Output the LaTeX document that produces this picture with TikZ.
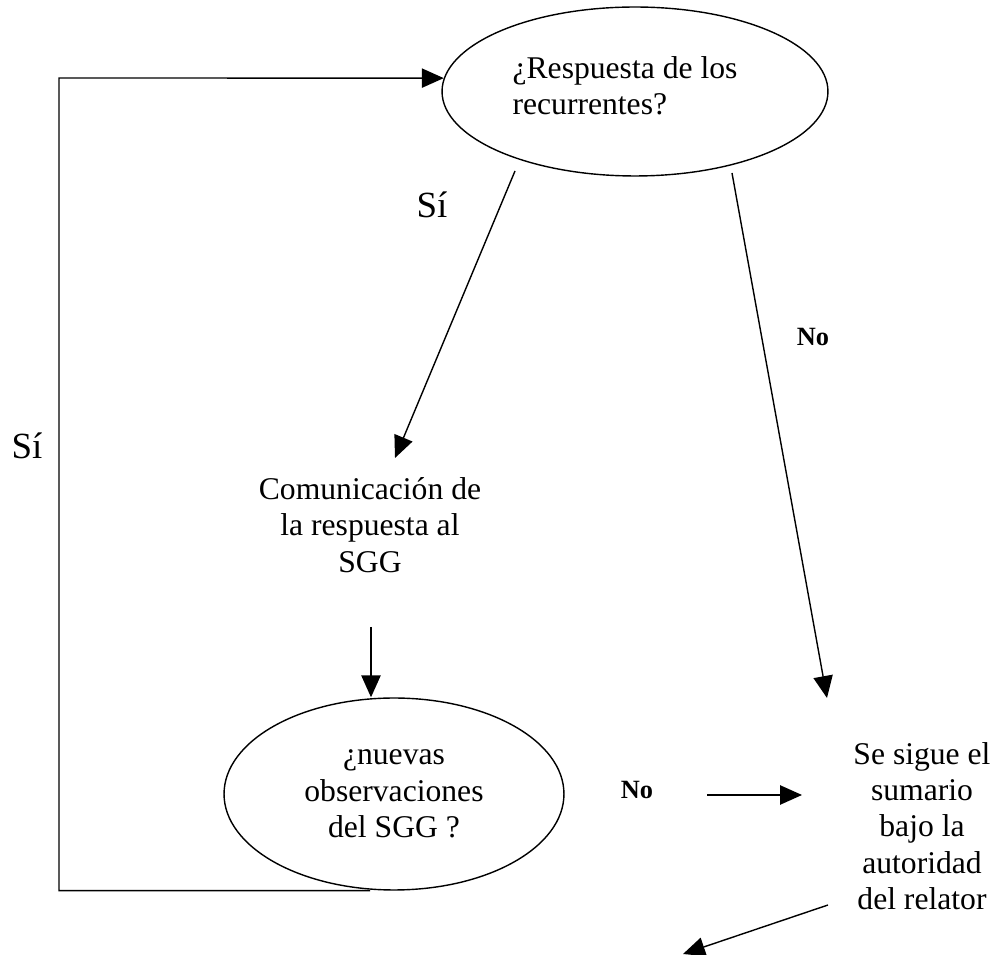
\documentclass[tikz,border=0pt]{standalone}
\usepackage{fontspec}
\setmainfont{Liberation Serif}
\usetikzlibrary{positioning,arrows.meta,shapes.geometric}

\begin{document}
\begin{tikzpicture}[x=0.02cm, y=-0.02cm,
    flecha/.style={line width=0.8pt, -{Triangle[length=12.5pt,width=11pt]}},
    texto/.style={font=\fontsize{18}{20.7}\selectfont, inner sep=0pt, align=center},
    etiq/.style={font=\fontsize{21}{24}\selectfont, inner sep=0pt},
    etiqno/.style={font=\fontsize{15}{17}\selectfont\bfseries, inner sep=0pt},
    pregunta/.style={ellipse, draw, line width=0.8pt, inner sep=0pt}]
    \useasboundingbox (0,0) rectangle (995,955);

    % =========================================================
    % PREGUNTAS (elipses)
    % =========================================================
    \node[pregunta, minimum width=7.72cm, minimum height=3.38cm] (resp) at (635,91.5) {};
    \node[texto, align=left] (resptxt) at (625,86) {¿Respuesta de los\\recurrentes?};
    \node[pregunta, texto, minimum width=6.8cm, minimum height=3.84cm] (nuevas) at (394,794) {¿nuevas\\observaciones\\del SGG ?};

    % =========================================================
    % TEXTOS
    % =========================================================
    \node[texto] (comun) at (370,525) {Comunicación de\\la respuesta al\\SGG};
    \node[texto] (sigue) at (922,826) {Se sigue el\\sumario\\bajo la\\autoridad\\del relator};

    % Etiquetas Sí / No
    \node[etiq] (sisup) at (432,205) {Sí};
    \node[etiq] (siizq) at (27,446) {Sí};
    \node[etiqno] (nosup) at (813,337) {No};
    \node[etiqno] (noinf) at (637,790) {No};

    % =========================================================
    % FLECHAS
    % =========================================================
    % extremos libres
    \coordinate (bucle) at (59,78);
    \coordinate (siIni) at (515,171);
    \coordinate (siFin) at (395,458);
    \coordinate (noIni) at (732,173);
    \coordinate (noFin) at (827,698);
    \coordinate (bajIni) at (371,627);
    \coordinate (horIni) at (707,795);
    \coordinate (horFin) at (802,795);
    \coordinate (finIni) at (828,905);
    \coordinate (finFin) at (683,954);

    % vuelta a la primera pregunta
    \draw[flecha] ([xshift=-0.48cm]nuevas.south) -| (bucle) -- (resp.176);

    \draw[flecha] (siIni) -- (siFin);
    \draw[flecha] (noIni) -- (noFin);
    \draw[flecha] (bajIni) -- (bajIni |- nuevas.north);
    \draw[flecha] (horIni) -- (horFin);
    \draw[flecha] (finIni) -- (finFin);
\end{tikzpicture}
\end{document}
